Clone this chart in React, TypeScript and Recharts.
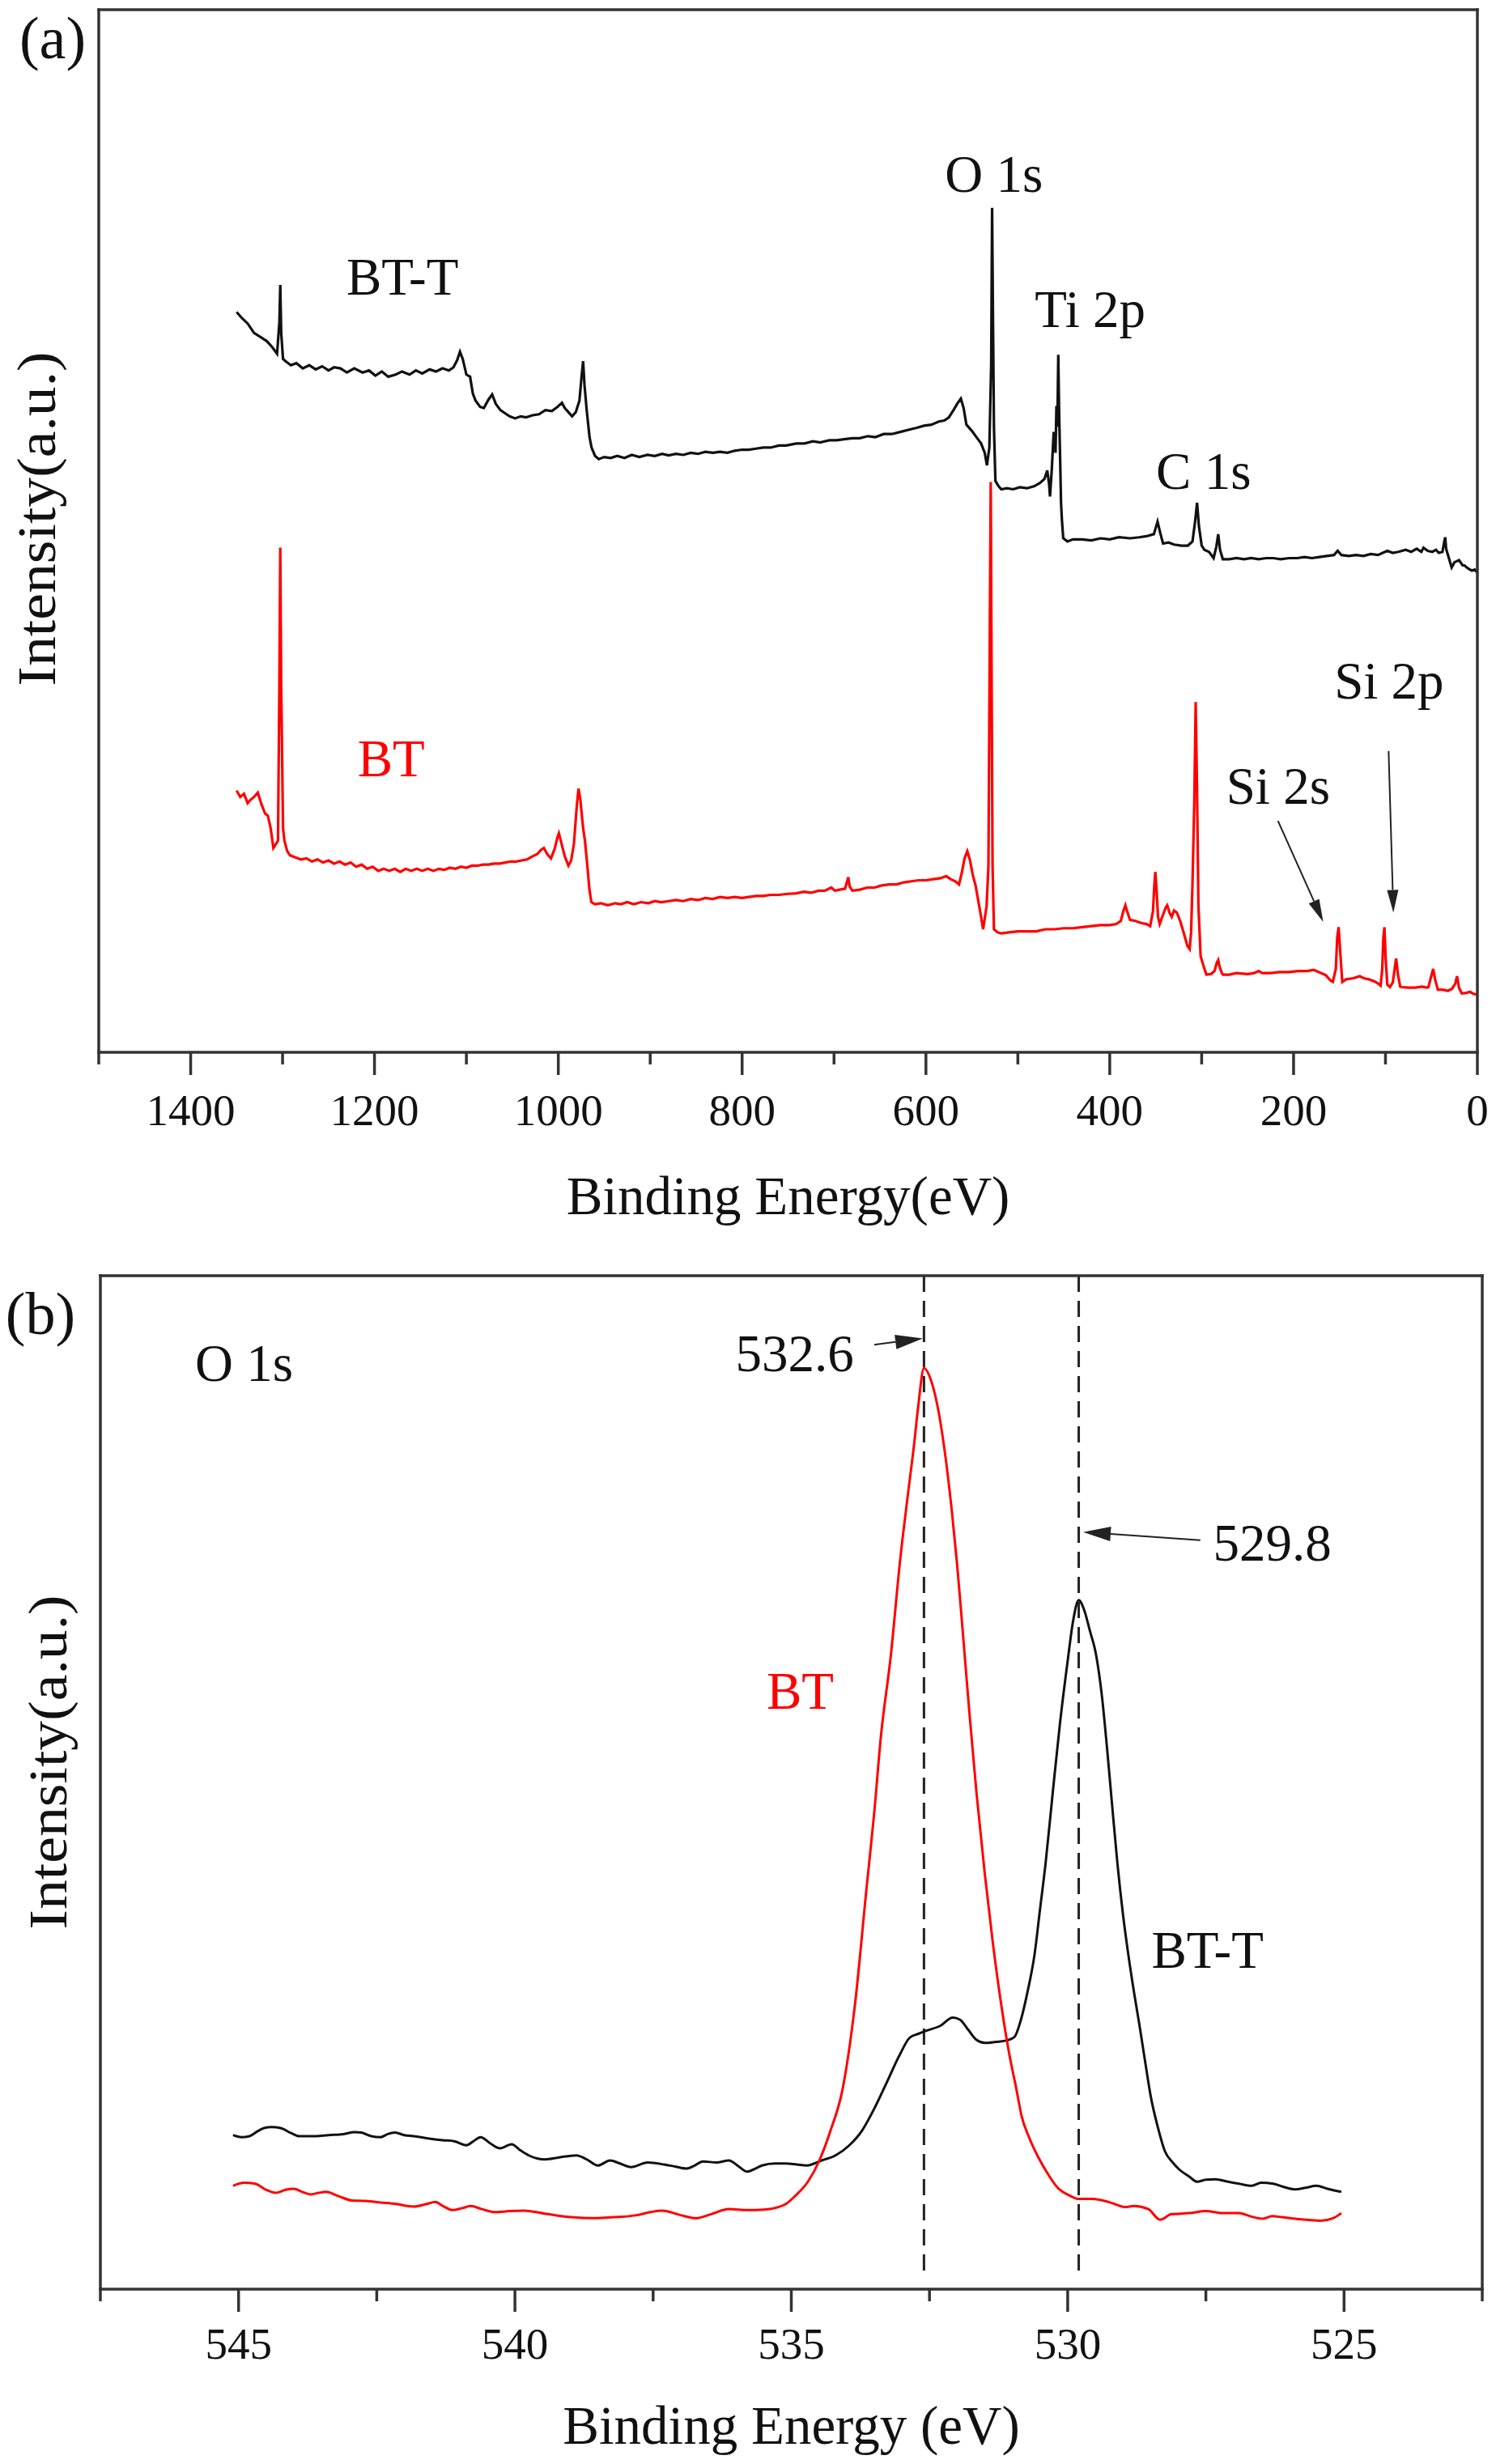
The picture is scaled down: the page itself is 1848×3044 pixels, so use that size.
import React from "react";
import { LineChart, Line, XAxis, YAxis, ReferenceLine, ReferenceDot } from "recharts";

const FONT = '"Liberation Serif", "Times New Roman", Times, serif';
const INK = "#111";
const FRAME = "#333";
const RED = "#ff0000";

// (a) survey scan, [binding energy (eV), intensity (a.u.)]
const surveyBTT: [number, number][] = [
  [1350, 71.0], [1344, 70.4], [1338, 69.9], [1331, 69.0], [1324, 68.6], [1317, 68.2], [1311, 67.6],
  [1306, 67.0], [1303.5, 70], [1302.5, 73.6], [1301.5, 69], [1299.5, 66.5], [1297, 66.3], [1291, 65.9],
  [1285, 66.1], [1278, 65.6], [1271, 65.9], [1264, 65.5], [1257, 65.8], [1250, 65.4], [1244, 65.7],
  [1237, 65.6], [1230, 65.2], [1222, 65.6], [1213, 65.2], [1206, 65.4], [1199, 64.9], [1192, 65.3],
  [1185, 64.8], [1177, 65.0], [1170, 65.3], [1162, 65.0], [1155, 65.4], [1148, 65.1], [1140, 65.5],
  [1133, 65.3], [1126, 65.6], [1119, 65.4], [1114, 65.7], [1110, 66.4], [1107, 67.2], [1104, 66.5],
  [1100, 65.0], [1096, 64.8], [1093, 63.2], [1090, 62.5], [1085, 61.9], [1081, 61.8], [1076, 62.6],
  [1072, 63.1], [1068, 62.2], [1063, 61.6], [1058, 61.3], [1053, 61.0], [1047, 60.8], [1041, 61.0],
  [1035, 60.9], [1028, 61.1], [1021, 61.2], [1014, 61.6], [1007, 61.5], [1001, 61.9], [996, 62.3],
  [993, 61.8], [989, 61.4], [985, 61.0], [981, 61.4], [977, 62.5], [974.5, 65.0], [973, 66.3],
  [971.5, 64], [969, 61.5], [966, 59.0], [963.8, 58.0], [960, 57.2], [956, 56.9], [950, 57.1],
  [943, 57.0], [936, 57.2], [928, 57.0], [920, 57.3], [912, 57.1], [903, 57.3], [895, 57.2],
  [887, 57.4], [880, 57.25], [872, 57.4], [864, 57.3], [856, 57.5], [848, 57.4], [840, 57.6],
  [832, 57.5], [824, 57.6], [816, 57.5], [808, 57.7], [800, 57.8], [793, 57.8], [785, 57.9],
  [777, 58.0], [769, 58.0], [760, 58.2], [752, 58.2], [741, 58.4], [732, 58.4], [723, 58.6],
  [715, 58.5], [705, 58.7], [697, 58.7], [689, 58.8], [680, 58.9], [672, 58.9], [663, 59.1],
  [655, 59.0], [646, 59.3], [637, 59.3], [628, 59.5], [619, 59.7], [610, 59.9], [602, 60.1],
  [594, 60.2], [586, 60.5], [580, 60.6], [575, 60.9], [570, 61.6], [566, 62.2], [562, 62.7],
  [559, 61.8], [556, 60.2], [550, 59.6], [545, 59.0], [540, 58.4], [536, 57.5], [533.6, 56.3],
  [531, 58], [529, 66], [528, 81.0], [527, 70], [526, 60], [524.4, 54.8], [521, 54.3], [518, 54.0],
  [512, 54.1], [505, 54.0], [498, 54.2], [490, 54.1], [482, 54.3], [476, 54.6], [471, 55.0],
  [468, 55.8], [466, 54.5], [465, 53.3], [463, 56], [461, 59.5], [459, 57.5], [458, 62], [457, 60],
  [456, 66.9], [455, 61], [454, 57], [453, 52.7], [452, 51], [450.6, 49.3], [446, 49.0], [440, 49.2],
  [430, 49.2], [420, 49.1], [410, 49.3], [400, 49.2], [390, 49.4], [378, 49.3], [368, 49.4],
  [360, 49.5], [352, 49.7], [348, 50.9], [345, 49.8], [342, 48.8], [336, 48.9], [330, 48.7],
  [322, 48.6], [315, 48.6], [310, 49.0], [307, 51.0], [305, 52.7], [303, 50.5], [300, 48.6],
  [297, 48.2], [292, 48.0], [287, 47.4], [284, 48.5], [282, 49.7], [280, 48.2], [277, 47.3],
  [270, 47.3], [262, 47.4], [254, 47.3], [246, 47.4], [238, 47.3], [230, 47.4], [222, 47.4],
  [214, 47.3], [205, 47.4], [196, 47.4], [188, 47.5], [180, 47.4], [172, 47.5], [164, 47.6],
  [156, 47.7], [152, 48.1], [148, 47.7], [140, 47.6], [132, 47.7], [124, 47.6], [116, 47.8],
  [108, 47.7], [103, 47.9], [98, 48.1], [92, 47.9], [86, 48.0], [78, 48.2], [72, 48.0], [66, 48.3],
  [61, 48.0], [58.6, 48.4], [54, 48.1], [49, 48.0], [45, 48.2], [42, 47.9], [38, 48.0], [36, 49.0],
  [35, 49.4], [34, 48.3], [31, 47.4], [28, 46.5], [25, 47.0], [20, 47.2], [16, 46.7], [14, 46.7],
  [10, 46.4], [6, 46.2], [3, 46.3], [0, 46.0],
];

const surveyBT: [number, number][] = [
  [1350, 25.1], [1346, 24.5], [1342, 24.8], [1338, 23.9], [1335, 24.2], [1331, 24.5], [1327, 24.9],
  [1323, 23.8], [1319, 22.9], [1316, 22.7], [1313, 21.5], [1310, 19.6], [1307, 20.0], [1305, 20.3],
  [1303.5, 35], [1302.5, 48.4], [1301.5, 35], [1299.5, 21.5], [1298, 20.3], [1295, 19.3], [1292, 18.9],
  [1286, 18.7], [1280, 18.5], [1274, 18.6], [1268, 18.3], [1262, 18.5], [1256, 18.2], [1250, 18.4],
  [1244, 18.1], [1238, 18.3], [1232, 18.0], [1226, 18.2], [1220, 17.8], [1214, 18.0], [1208, 17.6],
  [1202, 17.8], [1196, 17.4], [1190, 17.6], [1184, 17.4], [1178, 17.6], [1172, 17.3], [1166, 17.6],
  [1160, 17.4], [1154, 17.6], [1148, 17.4], [1142, 17.6], [1136, 17.4], [1130, 17.6], [1124, 17.5],
  [1118, 17.7], [1112, 17.6], [1106, 17.8], [1100, 17.7], [1094, 17.9], [1088, 17.9], [1082, 18.0],
  [1076, 18.0], [1070, 18.1], [1064, 18.1], [1058, 18.2], [1052, 18.3], [1046, 18.3], [1040, 18.4],
  [1034, 18.5], [1028, 18.8], [1023, 19.0], [1019, 19.4], [1015.7, 19.6], [1012, 19.0], [1008, 18.6],
  [1004, 19.5], [1001, 20.6], [999.4, 21.0], [997, 20.2], [993, 18.8], [989, 17.9], [986, 18.4],
  [983, 20.0], [980, 23.5], [978, 25.3], [976, 24.2], [973, 21.5], [971, 20.3], [968, 17.5],
  [966, 15.5], [964, 14.4], [960, 14.2], [954, 14.3], [946, 14.1], [938, 14.3], [932, 14.2],
  [925, 14.4], [918, 14.2], [910, 14.4], [902, 14.3], [895, 14.5], [888, 14.4], [880, 14.5],
  [872, 14.6], [864, 14.5], [856, 14.7], [848, 14.6], [840, 14.8], [832, 14.7], [824, 14.9],
  [816, 14.8], [808, 14.9], [800, 14.8], [793, 14.9], [785, 15.0], [777, 15.0], [769, 15.1],
  [760, 15.1], [750, 15.2], [741, 15.25], [733, 15.4], [725, 15.3], [717, 15.5], [710, 15.5],
  [703, 15.8], [699, 15.5], [694, 15.6], [688, 15.7], [686, 16.3], [684.5, 16.8], [683, 15.9],
  [680, 15.5], [672, 15.6], [664, 15.8], [656, 15.8], [648, 16.0], [640, 16.1], [632, 16.1],
  [624, 16.3], [616, 16.4], [608, 16.5], [600, 16.5], [592, 16.6], [584, 16.7], [578, 16.9],
  [573, 16.6], [568, 16.4], [564, 16.1], [561, 17.2], [558, 18.6], [555, 19.3], [552, 18.4],
  [549, 17.0], [546, 16.0], [543, 14.5], [540, 13.0], [537.8, 11.8], [534, 14.0], [532, 17.9],
  [530.5, 40], [529.5, 54.7], [528.5, 35], [527.5, 17.9], [526, 11.8], [522, 11.5], [518, 11.4],
  [510, 11.5], [500, 11.6], [490, 11.6], [480, 11.6], [470, 11.8], [460, 11.8], [450, 11.9],
  [440, 11.9], [430, 12.0], [420, 12.1], [410, 12.2], [400, 12.2], [393, 12.3], [388, 12.6],
  [385, 13.6], [383, 14.1], [381, 13.5], [378, 12.7], [372, 12.6], [366, 12.4], [360, 12.3],
  [356, 12.1], [353, 13.5], [351.5, 16], [350.4, 17.3], [349, 15.5], [347.5, 13.0], [345.7, 12.3],
  [342, 13.2], [339, 13.9], [337.5, 14.1], [335, 13.4], [332.6, 13.0], [330, 13.6], [327, 13.4],
  [323, 12.5], [319, 11.3], [315.5, 10.2], [313.1, 9.9], [311.5, 11.5], [310, 16.1], [308, 24],
  [306.5, 33.6], [305, 25], [303.5, 14], [301.1, 9.2], [298, 8.3], [294.9, 7.45], [290, 7.5],
  [286, 7.8], [283.5, 8.6], [282, 8.85], [280.5, 8.2], [278, 7.6], [276.7, 7.45], [270, 7.45],
  [262, 7.6], [250, 7.5], [243, 7.6], [238, 7.8], [234, 7.6], [225, 7.6], [215, 7.7], [205, 7.7],
  [195, 7.8], [185, 7.8], [178, 7.9], [175.4, 7.8], [170, 7.6], [165, 7.4], [160, 6.9],
  [157.3, 6.75], [154, 8], [152.5, 11], [151, 12.0], [149.5, 10], [147, 6.75], [143, 7.0],
  [135, 7.1], [128, 7.3], [123.5, 7.1], [118, 7.0], [112, 6.8], [108, 6.6], [105.3, 6.4],
  [103.5, 8], [102.3, 11], [101.1, 12.0], [99.8, 9], [98, 6.5], [95.2, 6.25], [92, 6.7], [90, 8],
  [88.4, 9.0], [86.5, 7.5], [84, 6.3], [82, 6.25], [75, 6.2], [68, 6.2], [60, 6.3], [55, 6.2],
  [53.3, 6.25], [50.5, 7.2], [48.1, 8.0], [46, 7.0], [43, 6.0], [38, 6.0], [32, 5.9], [27.5, 6.1],
  [24, 6.6], [22.1, 7.3], [20, 6.2], [17, 5.65], [12, 5.7], [8, 5.8], [4, 5.6], [0, 5.55],
];

// (b) O 1s high-resolution scan
const o1sBT: [number, number][] = [
  [545.1, 10.2], [544.9, 10.5], [544.7, 10.4], [544.5, 9.8], [544.33, 9.5], [544.15, 9.8], [544.0, 9.9],
  [543.85, 9.6], [543.7, 9.35], [543.55, 9.5], [543.42, 9.6], [543.2, 9.2], [542.95, 8.75],
  [542.7, 8.7], [542.43, 8.55], [542.15, 8.4], [541.83, 8.15], [541.6, 8.4], [541.44, 8.6],
  [541.3, 8.2], [541.13, 7.8], [540.95, 8.0], [540.8, 8.2], [540.6, 7.9], [540.36, 7.6],
  [540.1, 7.7], [539.84, 7.75], [539.4, 7.4], [538.98, 7.1], [538.6, 7.0], [538.2, 7.1],
  [537.8, 7.3], [537.55, 7.6], [537.34, 7.75], [537.0, 7.3], [536.73, 7.0], [536.45, 7.4],
  [536.13, 7.9], [535.79, 7.8], [535.5, 7.85], [535.3, 8.0], [535.1, 8.4], [534.93, 9.2],
  [534.7, 10.6], [534.5, 12.6], [534.3, 15.5], [534.07, 19.8], [533.85, 28], [533.64, 39.5],
  [533.5, 47], [533.38, 54.5], [533.2, 62.5], [533.03, 72], [532.9, 78], [532.78, 83.3],
  [532.7, 87.3], [532.6, 90.9], [532.48, 89.8], [532.35, 87.0], [532.22, 82.5], [532.1, 77],
  [532.0, 71.5], [531.9, 65], [531.78, 57], [531.65, 49], [531.5, 41], [531.35, 34], [531.2, 28],
  [531.05, 23], [530.93, 19.8], [530.83, 17], [530.7, 15], [530.53, 13.0], [530.35, 11.3],
  [530.18, 10.0], [529.95, 9.2], [529.8, 8.9], [529.55, 8.9], [529.41, 8.8], [529.2, 8.5],
  [528.97, 8.1], [528.8, 8.2], [528.54, 7.9], [528.33, 6.85], [528.12, 7.4], [527.8, 7.5],
  [527.5, 7.7], [527.2, 7.5], [526.9, 7.5], [526.7, 7.2], [526.47, 6.95], [526.3, 7.2],
  [526.12, 7.1], [525.8, 6.9], [525.43, 6.75], [525.2, 7.0], [525.05, 7.5],
];

const o1sBTT: [number, number][] = [
  [545.1, 15.2], [544.95, 15.0], [544.8, 15.1], [544.65, 15.6], [544.54, 15.9], [544.4, 16.0],
  [544.24, 15.9], [544.05, 15.4], [543.9, 15.1], [543.6, 15.1], [543.38, 15.2], [543.1, 15.3],
  [542.9, 15.5], [542.78, 15.45], [542.6, 15.1], [542.43, 15.0], [542.3, 15.3], [542.17, 15.45],
  [542.0, 15.2], [541.83, 15.1], [541.6, 14.9], [541.31, 14.7], [541.1, 14.6], [540.88, 14.2],
  [540.75, 14.6], [540.62, 15.0], [540.45, 14.4], [540.27, 13.9], [540.06, 14.3], [539.9, 13.7],
  [539.75, 13.2], [539.6, 12.9], [539.45, 12.8], [539.2, 13.0], [538.89, 13.2], [538.7, 12.8],
  [538.5, 12.2], [538.28, 12.7], [538.1, 12.4], [537.9, 12.05], [537.6, 12.5], [537.3, 12.3],
  [537.1, 12.1], [536.9, 11.9], [536.75, 12.2], [536.6, 12.6], [536.35, 12.5], [536.13, 12.7],
  [535.95, 12.1], [535.8, 11.6], [535.65, 11.9], [535.53, 12.2], [535.3, 12.4], [535.1, 12.4],
  [534.9, 12.3], [534.72, 12.2], [534.45, 12.7], [534.2, 13.2], [533.95, 14.2], [533.72, 15.65],
  [533.5, 17.8], [533.29, 20.2], [533.05, 23], [532.86, 24.8], [532.7, 25.2], [532.56, 25.5],
  [532.3, 26.0], [532.08, 26.8], [531.95, 26.6], [531.8, 25.6], [531.65, 24.6], [531.5, 24.3],
  [531.3, 24.4], [531.09, 24.55], [530.96, 24.9], [530.85, 26.5], [530.72, 29.5], [530.6, 33],
  [530.5, 37.5], [530.4, 42.0], [530.27, 49], [530.14, 55.8], [530.0, 62], [529.9, 66], [529.8, 68.0],
  [529.7, 67], [529.6, 65], [529.49, 62.7], [529.38, 58.5], [529.29, 53.5], [529.2, 48], [529.1, 42.0],
  [529.0, 37], [528.9, 32.9], [528.8, 29.3], [528.7, 26.0], [528.6, 22.5], [528.5, 19.1],
  [528.37, 16], [528.24, 13.6], [528.1, 12.5], [527.98, 11.8], [527.8, 11.1], [527.66, 10.6],
  [527.5, 10.8], [527.33, 10.85], [527.1, 10.6], [526.9, 10.4], [526.67, 10.2], [526.5, 10.5],
  [526.28, 10.4], [526.1, 10.1], [525.89, 9.85], [525.7, 10.0], [525.5, 10.2], [525.3, 9.9],
  [525.05, 9.6],
];

const surveyTicks = [1500, 1400, 1300, 1200, 1100, 1000, 900, 800, 700, 600, 500, 400, 300, 200, 100, 0];
const o1sTicks = [547.5, 545, 542.5, 540, 537.5, 535, 532.5, 530, 527.5, 525, 522.5];
const o1sPeakPositions = [532.6, 529.8];

// text anchors are [x in eV, baseline in a.u.]
const surveyNotes = [
  { text: "BT-T", at: [1169.5, 72.7], color: INK },
  { text: "O 1s", at: [526.1, 82.5], color: INK },
  { text: "Ti 2p", at: [421.3, 69.6], color: INK },
  { text: "C 1s", at: [297.9, 54.0], color: INK },
  { text: "BT", at: [1181.8, 26.5], color: RED },
  { text: "Si 2s", at: [216.8, 23.8], color: INK },
  { text: "Si 2p", at: [96.1, 33.9], color: INK },
];
const surveyArrows = [
  { from: [217, 22.2], to: [167.7, 12.5] },
  { from: [96.6, 28.9], to: [91.4, 13.4] },
];

const o1sNotes = [
  { text: "O 1s", at: [544.9, 89.6], color: INK },
  { text: "532.6", at: [534.94, 90.6], color: INK },
  { text: "529.8", at: [526.3, 71.9], color: INK },
  { text: "BT", at: [534.84, 57.3], color: RED },
  { text: "BT-T", at: [527.47, 31.7], color: INK },
];
const o1sArrows = [
  { from: [533.5, 93.2], to: [532.62, 93.8] },
  { from: [527.6, 73.9], to: [529.72, 74.7] },
];

const toRows = (pts: [number, number][]) => pts.map(([E, I]) => ({ E, I }));

const axisStroke = { stroke: FRAME, strokeWidth: 3.5, strokeLinecap: "square" as const };

function makeTick(isMajor: (v: number) => boolean, labelDy: number) {
  return (props: any) => {
    const { x, y, payload } = props;
    const major = isMajor(payload.value);
    return (
      <g>
        <line x1={x} x2={x} y1={y} y2={y + (major ? 28 : 15)} stroke={FRAME} strokeWidth={3.5} />
        {major && (
          <text x={x} y={y + labelDy} textAnchor="middle" fontFamily={FONT} fontSize={55} fill={INK}>
            {payload.value}
          </text>
        )}
      </g>
    );
  };
}

// rotated title, baseline placed `gap` px left of the left frame line, a little drawn out lengthwise
function yTitle(gap: number, shiftY: number) {
  return (props: any) => {
    const vb = props.viewBox || { x: 0, y: 0, width: 0, height: 0 };
    const cx = vb.x + vb.width - gap;
    const cy = vb.y + vb.height / 2 + shiftY;
    return (
      <text x={0} y={0} transform={`translate(${cx} ${cy}) rotate(-90) scale(1.1 1)`} textAnchor="middle"
        fontFamily={FONT} fontSize={67} fill={INK}>
        Intensity(a.u.)
      </text>
    );
  };
}

function panelTag(tag: string, dx: number, dy: number) {
  return (props: any) => {
    const vb = props.viewBox || { x: 0, y: 0, width: 0, height: 0 };
    return (
      <text x={vb.x + dx} y={vb.y + vb.height + dy} textAnchor="middle" fontFamily={FONT} fontSize={74} fill={INK}>
        {tag}
      </text>
    );
  };
}

function arrowShape(head: number, half: number) {
  return (p: any) => {
    const { x1, y1, x2, y2 } = p;
    const dx = x2 - x1;
    const dy = y2 - y1;
    const len = Math.hypot(dx, dy) || 1;
    const ux = dx / len;
    const uy = dy / len;
    const bx = x2 - ux * head;
    const by = y2 - uy * head;
    const px = -uy * half;
    const py = ux * half;
    return (
      <g>
        <line x1={x1} y1={y1} x2={bx} y2={by} stroke="#222" strokeWidth={2} />
        <polygon points={`${x2},${y2} ${bx + px},${by + py} ${bx - px},${by - py}`} fill="#222" />
      </g>
    );
  };
}

function noteShape(text: string, color: string) {
  return (p: any) => (
    <text x={p.cx} y={p.cy} textAnchor="middle" fontFamily={FONT} fontSize={65} fill={color}>
      {text}
    </text>
  );
}

function SurveyPanel() {
  return (
    <LineChart width={1848} height={1540} margin={{ top: 11, right: 22, bottom: 0, left: 121 }}>
      <XAxis dataKey="E" type="number" domain={[0, 1500]} reversed ticks={surveyTicks} interval={0}
        height={240} tickLine={false} tickSize={0} tickMargin={0} axisLine={axisStroke}
        tick={makeTick((v) => v % 200 === 0, 90)}
        label={{ value: "Binding Energy(eV)", position: "insideBottom", offset: 40, fontSize: 67, fontFamily: FONT, fill: INK }} />
      <XAxis xAxisId="top" orientation="top" dataKey="E" type="number" domain={[0, 1500]} reversed
        height={1} tick={false} tickLine={false} axisLine={axisStroke} label={panelTag("(a)", -57, 60)} />
      <YAxis type="number" domain={[0, 100]} width={1} tick={false} tickLine={false} axisLine={axisStroke}
        label={yTitle(54, -15)} />
      <YAxis yAxisId="right" orientation="right" type="number" domain={[0, 100]} width={1} tick={false}
        tickLine={false} axisLine={axisStroke} />
      <Line data={toRows(surveyBTT)} dataKey="I" type="linear" stroke={INK} strokeWidth={3.2}
        dot={false} activeDot={false} isAnimationActive={false} />
      <Line data={toRows(surveyBT)} dataKey="I" type="linear" stroke={RED} strokeWidth={3.2}
        dot={false} activeDot={false} isAnimationActive={false} />
      {surveyArrows.map((a, i) => (
        <ReferenceLine key={`sa${i}`} segment={[{ x: a.from[0], y: a.from[1] }, { x: a.to[0], y: a.to[1] }]}
          shape={arrowShape(28, 7)} />
      ))}
      {surveyNotes.map((n) => (
        <ReferenceDot key={n.text} x={n.at[0]} y={n.at[1]} r={0} shape={noteShape(n.text, n.color)} />
      ))}
    </LineChart>
  );
}

function O1sPanel() {
  return (
    <LineChart width={1848} height={1504} margin={{ top: 35, right: 16, bottom: 0, left: 123 }}>
      <XAxis dataKey="E" type="number" domain={[522.5, 547.5]} reversed ticks={o1sTicks} interval={0}
        height={216} tickLine={false} tickSize={0} tickMargin={0} axisLine={axisStroke}
        tick={makeTick((v) => Math.abs(v % 5) < 1e-6, 86)}
        label={{ value: "Binding Energy (eV)", position: "insideBottom", offset: 25, fontSize: 67, fontFamily: FONT, fill: INK }} />
      <XAxis xAxisId="top" orientation="top" dataKey="E" type="number" domain={[522.5, 547.5]} reversed
        height={1} tick={false} tickLine={false} axisLine={axisStroke} label={panelTag("(b)", -74, 72)} />
      <YAxis type="number" domain={[0, 100]} width={1} tick={false} tickLine={false} axisLine={axisStroke}
        label={yTitle(42, -25)} />
      <YAxis yAxisId="right" orientation="right" type="number" domain={[0, 100]} width={1} tick={false}
        tickLine={false} axisLine={axisStroke} />
      {o1sPeakPositions.map((e) => (
        <ReferenceLine key={`d${e}`} segment={[{ x: e, y: 100 }, { x: e, y: 1.3 }]}
          stroke="#222" strokeWidth={3} strokeDasharray="20 11" />
      ))}
      <Line data={toRows(o1sBTT)} dataKey="I" type="monotone" stroke={INK} strokeWidth={3}
        dot={false} activeDot={false} isAnimationActive={false} />
      <Line data={toRows(o1sBT)} dataKey="I" type="monotone" stroke={RED} strokeWidth={3}
        dot={false} activeDot={false} isAnimationActive={false} />
      {o1sArrows.map((a, i) => (
        <ReferenceLine key={`oa${i}`} segment={[{ x: a.from[0], y: a.from[1] }, { x: a.to[0], y: a.to[1] }]}
          shape={arrowShape(34, 9)} />
      ))}
      {o1sNotes.map((n) => (
        <ReferenceDot key={n.text} x={n.at[0]} y={n.at[1]} r={0} shape={noteShape(n.text, n.color)} />
      ))}
    </LineChart>
  );
}

export default function App() {
  return (
    <div style={{ position: "absolute", left: 0, top: 0, width: 1848, height: 3044, background: "#fff" }}>
      <div style={{ position: "absolute", left: 0, top: 0 }}>
        <SurveyPanel />
      </div>
      <div style={{ position: "absolute", left: 0, top: 1540 }}>
        <O1sPanel />
      </div>
    </div>
  );
}
